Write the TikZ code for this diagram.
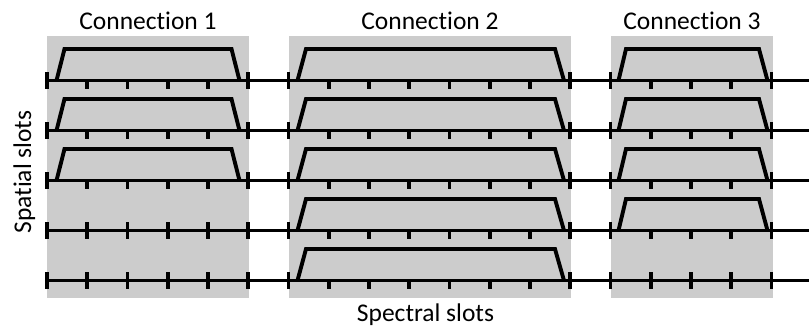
\documentclass[tikz,border=0pt]{standalone}
\usepackage{fontspec}
\setmainfont{Carlito}[Ligatures={NoCommon}]
\definecolor{boxgray}{rgb}{0.8,0.8,0.8}
\begin{document}
\begin{tikzpicture}[x=1pt,y=-1pt,
  conbox/.style={fill=boxgray,draw=none},
  axisline/.style={line width=3.9pt,black},
  tickmark/.style={line width=3.9pt,black},
  trap/.style={line width=3.9pt,black,fill=boxgray,line join=miter},
  lbl/.style={font=\fontsize{25.5}{30}\selectfont,inner sep=0pt}]
\useasboundingbox (0,0) rectangle (809,327);
% connection areas
\fill[conbox] (47,36) rectangle (248.5,297.5);
\fill[conbox] (288.5,36) rectangle (571,297.5);
\fill[conbox] (610.5,36) rectangle (773,297.5);
% labels
\node[lbl,anchor=base] (c1) at (148,29) {Connection 1};
\node[lbl,anchor=base] (c2) at (430,29) {Connection 2};
\node[lbl,anchor=base] (c3) at (692,29) {Connection 3};
\node[lbl,anchor=base,rotate=90] (spat) at (31,172) {Spatial slots};
\node[lbl,anchor=base] (spec) at (425.5,321.5) {Spectral slots};
% rows
\foreach \r in {0,...,4}{
  \pgfmathsetmacro{\yy}{80.5+50*\r}
  \foreach \k in {0,...,18}{
    \draw[tickmark] ({47+40.25*\k},\yy-8.5) -- ({47+40.25*\k},\yy+8.5);
  }
}
% trapezoids: connection 1 (rows 1-3)
\foreach \r in {0,1,2}{
  \pgfmathsetmacro{\yy}{80.5+50*\r}
  \draw[trap] (56.5,\yy) -- (64.5,\yy-31.5) -- (231.5,\yy-31.5) -- (239.5,\yy);
}
% connection 2 (rows 1-5)
\foreach \r in {0,...,4}{
  \pgfmathsetmacro{\yy}{80.5+50*\r}
  \draw[trap] (297.5,\yy) -- (306,\yy-31.5) -- (555,\yy-31.5) -- (564,\yy);
}
% connection 3 (rows 1-4)
\foreach \r in {0,...,3}{
  \pgfmathsetmacro{\yy}{80.5+50*\r}
  \draw[trap] (618.5,\yy) -- (626,\yy-31.5) -- (759,\yy-31.5) -- (767.5,\yy);
}
% axis lines
\foreach \r in {0,...,4}{
  \pgfmathsetmacro{\yy}{80.5+50*\r}
  \coordinate (a\r) at (47,\yy);
  \coordinate (b\r) at (809,\yy);
  \draw[axisline] (a\r) -- (b\r);
}
\end{tikzpicture}
\end{document}
